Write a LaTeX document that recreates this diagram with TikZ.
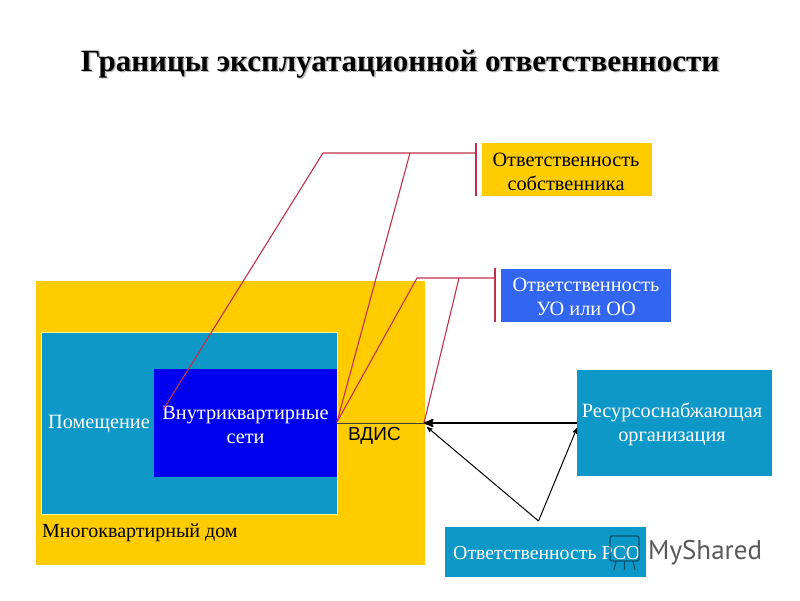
\documentclass[tikz,border=0pt]{standalone}
\usepackage{fontspec}
\setmainfont{Liberation Serif}
\newfontfamily\vdisfont{Liberation Sans}
\newfontfamily\markfont{PT Sans}
\usetikzlibrary{arrows,positioning}
\definecolor{houseyellow}{HTML}{FFCC00}
\definecolor{roomteal}{HTML}{0E98C8}
\definecolor{netblue}{HTML}{0000F0}
\definecolor{uoblue}{HTML}{3366F0}
\definecolor{limitred}{HTML}{C0304A}
\tikzset{
	plate/.style={inner sep=0pt,align=center,font=\fontsize{20.3}{24}\selectfont},
	limit/.style={limitred,line width=1.1pt},
	flow/.style={->,>=stealth',black,line width=1pt}
}
\begin{document}
\begin{tikzpicture}[x=1pt,y=-1pt]
	\useasboundingbox (0,0) rectangle (800,600);
	\fill[white] (0,0) rectangle (800,600);

	\node[gray!55,font=\fontsize{31}{31}\bfseries\selectfont] at (401.5,65.5) {Границы эксплуатационной ответственности};
	\node[font=\fontsize{31}{31}\bfseries\selectfont] (title) at (400,64) {Границы эксплуатационной ответственности};

	% house and what is inside it
	\node[plate,fill=houseyellow,minimum width=389pt,minimum height=284pt] (house) at (230.5,423) {};
	\node[plate,fill=roomteal,draw=yellow!45,line width=0.5pt,minimum width=296pt,minimum height=182pt] (room) at (189,423) {};
	\node[plate,fill=netblue,minimum width=183pt,minimum height=108pt] (net) at (245.5,423) {};
	\node[plate,text=white] (netlabel) at (245.5,424.5) {Внутриквартирные\\сети};
	\node[plate,text=white,anchor=west] (roomlabel) at (48,424) {Помещение};
	\node[plate,font=\fontsize{20}{24}\selectfont,anchor=west] (houselabel) at (42,533) {Многоквартирный дом};
	\node[plate,font=\fontsize{19}{20}\vdisfont\selectfont,anchor=west] (vdis) at (348,436) {ВДИС};

	% boxes on the right
	\node[plate,fill=houseyellow,minimum width=170pt,minimum height=53pt] (owner) at (567,169.5) {};
	\node[plate] (ownerlabel) at (566,172) {Ответственность\\собственника};
	\node[plate,fill=uoblue,minimum width=170pt,minimum height=53pt] (uo) at (586,295.5) {};
	\node[plate,text=white] (uolabel) at (586,297) {Ответственность\\УО или ОО};
	\node[plate,fill=roomteal,minimum width=195pt,minimum height=106pt] (rso) at (674.5,423) {};
	\node[plate,text=white] (rsolabel) at (672,424.5) {Ресурсоснабжающая\\организация};
	\node[plate,fill=roomteal,minimum width=201pt,minimum height=50pt] (rsoresp) at (545.5,552) {};
	\node[plate,font=\fontsize{19.8}{24}\selectfont,text=white,anchor=west] (rsoresplabel) at (453,553) {Ответственность РСО};

	% site mark in the corner
	\draw[roomteal!55!black,line width=1.2pt,rounded corners=2pt] (610,536) rectangle (639,561);
	\draw[roomteal!55!black,line width=1.2pt] (616,561) -- (614,570) (624.5,561) -- (624.5,570) (633,561) -- (635,570);
	\node[font=\fontsize{27}{27}\markfont\selectfont,text=black!65,anchor=west,inner sep=0pt] (mark) at (648,553) {MyShared};

	\coordinate (ownerbar) at (476,153);
	\coordinate (ownerbend) at (323,153);
	\coordinate (ownermid) at (410,153);
	\coordinate (uobar) at (495,278);
	\coordinate (uobend) at (417,278);
	\coordinate (uomid) at (459,278);
	\coordinate (netleft) at (163,410);
	\coordinate (netright) at (337,422);
	\coordinate (vdisend) at (424,423);
	\coordinate (rsoout) at (577,423);
	\coordinate (rsoin) at (577,428);
	\coordinate (vdisin) at (427,427);
	\coordinate (fork) at (538.5,521);

	\draw[limit] (netleft) -- (ownerbend) -- (ownerbar);
	\draw[limit] (netright) -- (ownermid);
	\draw[limit] (netright) -- (uobend) -- (uobar);
	\draw[limit] (vdisend) -- (uomid);
	\draw[limit,line width=1.5pt] (476,143) -- (476,196);
	\draw[limit] (495,268) -- (495,322);

	\draw[black!75,line width=0.9pt] (netright |- vdisend) -- (vdisend);
	\draw[flow,line width=2.2pt] (rsoout) -- (vdisend);
	\draw[flow] (fork) -- (vdisin);
	\draw[flow] (fork) -- (rsoin);
\end{tikzpicture}
\end{document}
